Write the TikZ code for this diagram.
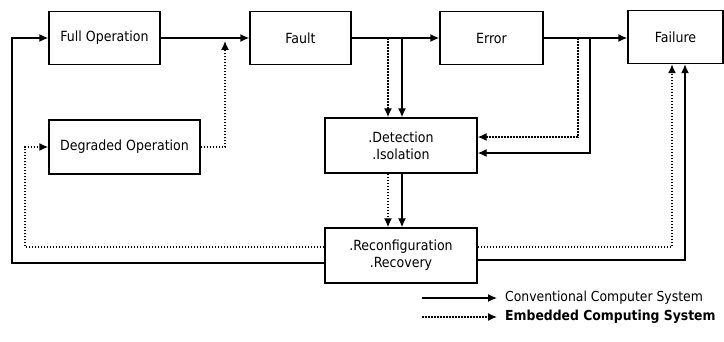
\documentclass[tikz,border=0pt]{standalone}
\usepackage{fontspec}
\setmainfont{DejaVu Sans Condensed}
\usetikzlibrary{arrows.meta,shapes}
\tikzset{
  box/.style={draw,line width=1.4pt,minimum height=53pt,inner sep=2pt,align=center,font=\fontsize{14}{17}\selectfont},
  solidarrow/.style={line width=1.4pt,-{Latex[length=9pt,width=8pt]}},
  dotarrow/.style={line width=1.4pt,dash pattern=on 1.6pt off 1.4pt,-{Latex[length=9pt,width=8pt]}},
  keytext/.style={anchor=west,inner sep=0pt,font=\fontsize{13.8}{16}\selectfont},
}
\begin{document}
\begin{tikzpicture}[x=1pt,y=-1pt]
\useasboundingbox (0,0) rectangle (724,342);
\node[box,minimum width=111pt] (full) at (104.5,38) {Full Operation};
\node[box,minimum width=101pt] (fault) at (300.5,38) {Fault};
\node[box,minimum width=103pt] (error) at (491.5,38) {Error};
\node[box,minimum width=95pt] (failure) at (675.5,37) {Failure};
\node[box,minimum width=151pt,minimum height=54pt] (degraded) at (124.5,147) {Degraded Operation};
\node[box,minimum width=152pt,minimum height=55pt] (detect) at (401,145.5) {.Detection\\.Isolation};
\node[box,minimum width=152pt,minimum height=55pt] (reconf) at (401,255.5) {.Reconfiguration\\.Recovery};
% helper points
\coordinate (dm) at (225,41);
\coordinate (d1) at (388,38);
\coordinate (d2) at (402,38);
\coordinate (e1) at (578,38);
\coordinate (e2) at (590,38);
\coordinate (e1b) at (578,137);
\coordinate (e2b) at (590,153);
\coordinate (r1) at (672,247);
\coordinate (r2) at (685,260);
\coordinate (l1) at (25,247);
\coordinate (l2) at (12,263);
% top row
\draw[solidarrow] (full) -- (fault);
\draw[solidarrow] (fault) -- (error);
\draw[solidarrow] (error.east) -- (failure.west |- error.east);
\draw[dotarrow] (degraded.east) -| (dm);
% fault -> detection
\draw[dotarrow] (d1) -- (d1 |- detect.north);
\draw[solidarrow] (d2) -- (d2 |- detect.north);
% error -> detection
\draw[dotarrow] (e1) -- (e1b) -- (e1b -| detect.east);
\draw[solidarrow] (e2) -- (e2b) -- (e2b -| detect.east);
% detection -> reconfiguration
\draw[dotarrow] (d1 |- detect.south) -- (d1 |- reconf.north);
\draw[solidarrow] (d2 |- detect.south) -- (d2 |- reconf.north);
% reconfiguration -> failure
\draw[dotarrow] (r1 -| reconf.east) -- (r1) -- (r1 |- failure.south);
\draw[solidarrow] (r2 -| reconf.east) -- (r2) -- (r2 |- failure.south);
% reconfiguration -> back
\draw[solidarrow] (l2 -| reconf.west) -- (l2) |- (full.west);
\draw[dotarrow] (l1 -| reconf.west) -- (l1) |- (degraded.west);
% legend
\coordinate (k1) at (422,298);
\coordinate (k2) at (497,298);
\coordinate (k3) at (422,317);
\coordinate (k4) at (497,317);
\draw[solidarrow] (k1) -- (k2);
\draw[dotarrow] (k3) -- (k4);
\node[keytext] (ccs) at (505,298) {Conventional Computer System};
\node[keytext,font=\fontsize{13.8}{16}\selectfont\bfseries] (ecs) at (505,317) {Embedded Computing System};
\end{tikzpicture}
\end{document}
